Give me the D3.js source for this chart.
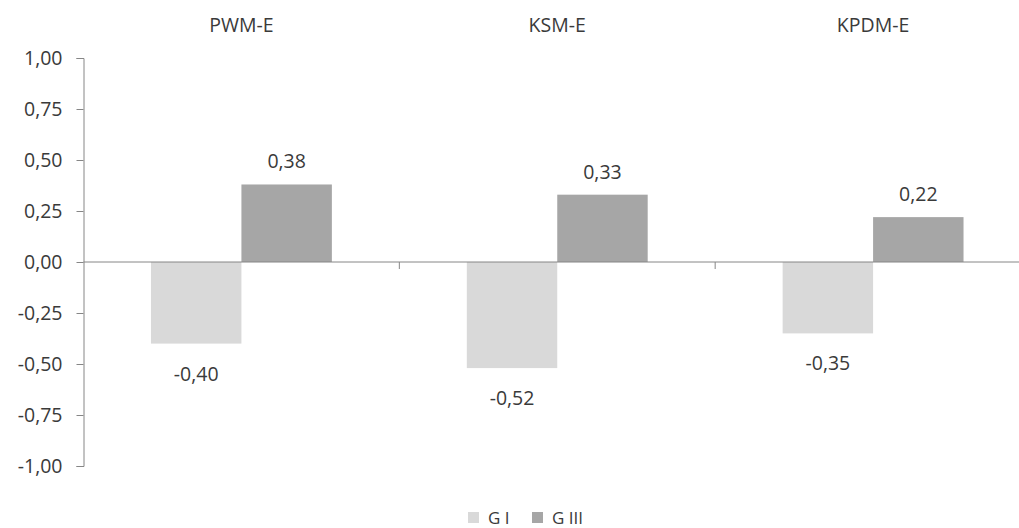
<!DOCTYPE html>
<html><head><meta charset="utf-8">
<script src="https://cdn.jsdelivr.net/npm/d3@7"></script>
<style>
html,body{margin:0;padding:0;background:#fff;}
svg{display:block;}
text{font-family:"Open Sans","Segoe UI",sans-serif;fill:#3a3a3a;}
</style></head>
<body>
<svg id="chart" width="1019" height="528"></svg>
<script>
const categories = ["PWM-E", "KSM-E", "KPDM-E"];
const seriesNames = ["G I", "G III"];
const valuesGI = [-0.40, -0.52, -0.35];
const valuesGIII = [0.38, 0.33, 0.22];
const labelsGI = ["-0,40", "-0,52", "-0,35"];
const labelsGIII = ["0,38", "0,33", "0,22"];
const yTicks = [-1, -0.75, -0.5, -0.25, 0, 0.25, 0.5, 0.75, 1];
const colors = ["#d9d9d9", "#a6a6a6"];
const FS = "19.5px";

const svg = d3.select("#chart");
const left = 83.5, right = 1031;
const x = d3.scaleBand().domain(categories).range([left, right]).paddingInner(0).paddingOuter(0);
const sub = d3.scaleBand().domain(seriesNames).range([0, x.bandwidth()]).paddingOuter(0.746).paddingInner(0);
const y = d3.scaleLinear().domain([-1, 1]).range([466, 58]);
const fmt = v => d3.format(".2f")(v).replace(".", ",").replace("−", "-");

// y axis
const yAxis = d3.axisLeft(y).tickValues(yTicks).tickSize(7).tickFormat(fmt);
const gy = svg.append("g").attr("transform", `translate(${left},0)`).call(yAxis);
gy.attr("font-size", null).attr("font-family", null);
gy.select(".domain").attr("stroke", "#868686");
gy.selectAll(".tick line").attr("stroke", "#868686");
gy.selectAll(".tick text").attr("x", -21).attr("dy", "0.34em").attr("fill", "#3a3a3a").style("font-size", FS);

// bars
const data = categories.map((c, i) => ({cat: c, vals: [valuesGI[i], valuesGIII[i]], labels: [labelsGI[i], labelsGIII[i]]}));
const groups = svg.append("g").selectAll("g").data(data).join("g")
  .attr("transform", d => `translate(${x(d.cat)},0)`);
groups.selectAll("rect").data(d => d.vals.map((v, k) => ({v, k, s: seriesNames[k]}))).join("rect")
  .attr("x", d => sub(d.s))
  .attr("width", sub.bandwidth())
  .attr("y", d => y(Math.max(0, d.v)))
  .attr("height", d => Math.abs(y(d.v) - y(0)))
  .attr("fill", d => colors[d.k]);
groups.selectAll("text.lbl").data(d => d.vals.map((v, k) => ({v, k, s: seriesNames[k], l: d.labels[k]}))).join("text")
  .attr("class", "lbl")
  .attr("x", d => sub(d.s) + sub.bandwidth() / 2)
  .attr("y", d => d.v >= 0 ? y(d.v) - 16 : y(d.v) + 37)
  .attr("text-anchor", "middle")
  .style("font-size", FS)
  .text(d => d.l);

// x axis at zero (ticks between categories)
const zeroY = y(0);
svg.append("line").attr("x1", left).attr("x2", right).attr("y1", zeroY).attr("y2", zeroY).attr("stroke", "#868686");
svg.append("g").selectAll("line").data(categories).join("line")
  .attr("x1", d => x(d) + x.step())
  .attr("x2", d => x(d) + x.step())
  .attr("y1", zeroY).attr("y2", zeroY + 7).attr("stroke", "#868686");

// category titles on top
svg.append("g").selectAll("text").data(categories).join("text")
  .attr("x", d => x(d) + x.bandwidth() / 2)
  .attr("y", 32)
  .attr("text-anchor", "middle")
  .style("font-size", FS)
  .text(d => d);

// legend
const legX = [468, 532];
const leg = svg.append("g").selectAll("g").data(seriesNames).join("g")
  .attr("transform", (d, i) => `translate(${legX[i]},512)`);
leg.append("rect").attr("width", 11).attr("height", 11).attr("fill", (d, i) => colors[i]);
leg.append("text").attr("x", 20).attr("y", 11.5).style("font-size", "17px").text(d => d);
</script>
</body></html>
